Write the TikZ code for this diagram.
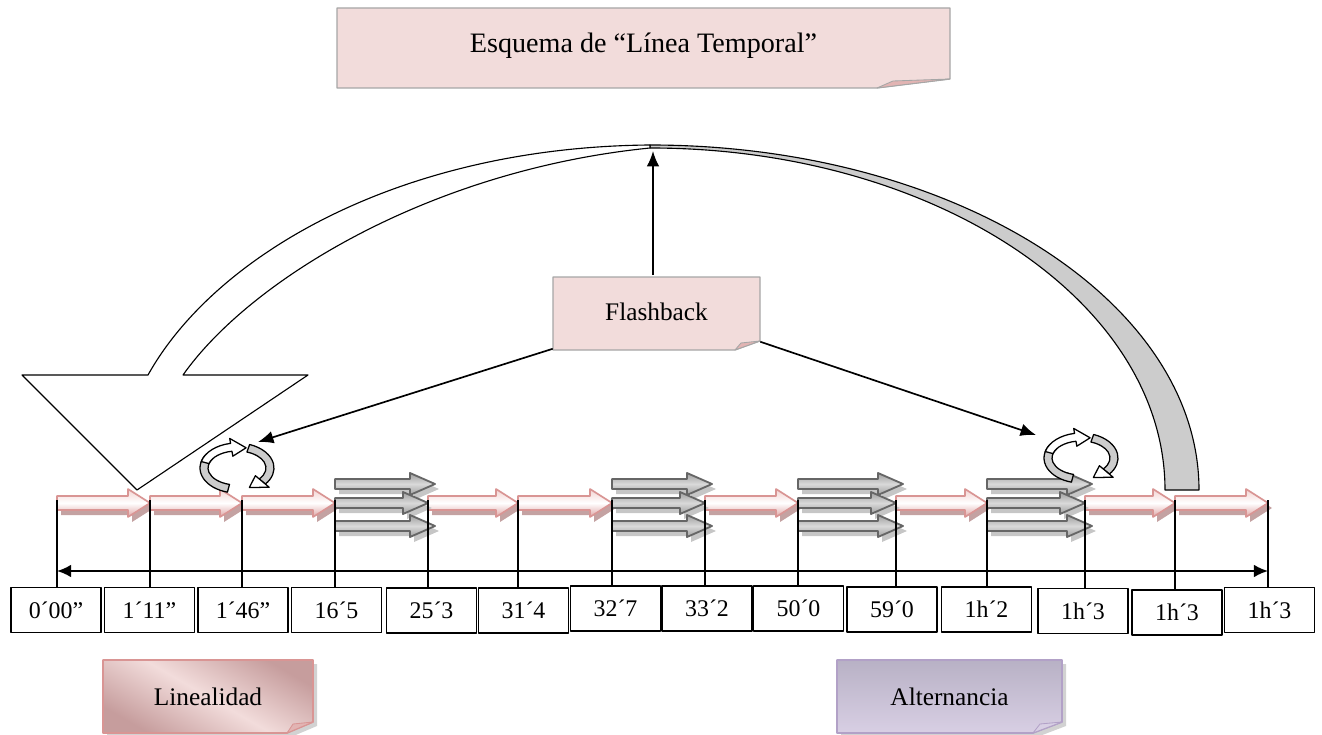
\documentclass[tikz,border=0pt]{standalone}
\usepackage{fontspec}
\setmainfont{Liberation Serif}
\usetikzlibrary{arrows.meta}

\definecolor{notepink}{HTML}{F2DCDB}
\definecolor{foldpink}{HTML}{E2B4B3}
\definecolor{notegray}{HTML}{A6A6A6}
\definecolor{arrpink}{HTML}{D99594}
\definecolor{arrpinkl}{HTML}{F3D3D2}
\definecolor{shadpink}{HTML}{C4A2A2}
\definecolor{arrgray}{HTML}{666666}
\definecolor{rosed}{HTML}{C69D9D}
\definecolor{lilac}{HTML}{B2A1C7}
\definecolor{lilacd}{HTML}{B8B1C5}
\definecolor{lilacl}{HTML}{D8CFE4}

\begin{document}
\begin{tikzpicture}[x=0.025cm,y=-0.025cm,line join=round,
  lbl/.style={draw,line width=1.2pt,minimum width=2.25cm,minimum height=1.12cm,inner sep=0pt,font=\fontsize{17}{19}\selectfont},
  tick/.style={line width=1pt},
  link/.style={-{Latex[length=11pt,width=9pt]},line width=1.2pt},
  pinkarr/.style={draw=arrpink,line width=1.2pt,top color=arrpinkl,bottom color=arrpink!85,middle color=white},
  grayarr/.style={draw=arrgray,line width=1.3pt,top color=gray!75,bottom color=gray!75,middle color=gray!30},
  ribbon/.style={draw=black,line width=0.8pt},
  fold/.style={fill=foldpink,draw=notegray,line width=0.6pt}]
\useasboundingbox (0,0) rectangle (1322,735);

% title note
\filldraw[fill=notepink,draw=notegray,line width=0.9pt] (337,8) -- (950,8) -- (950,79) -- (877,88) -- (337,88) -- cycle;
\filldraw[fold] (950,79) -- (877,88) -- (893,81) -- cycle;
\node (title) [minimum width=15.3cm,minimum height=2cm,font=\fontsize{20}{24}\selectfont] at (643.5,46) {Esquema de “Línea Temporal”};

% flashback note
\filldraw[fill=notepink,draw=notegray,line width=0.9pt] (553,277) -- (760,277) -- (760,341) -- (735,350) -- (553,350) -- cycle;
\filldraw[fold] (760,341) -- (735,350) -- (741,343) -- cycle;
\node (fb) [minimum width=5.175cm,minimum height=1.825cm,font=\fontsize{18}{22}\selectfont] at (656.5,312) {Flashback};

% timeline arrows
\foreach \a/\b in {57/150,150/242,242/335,428/518,518/612,705/798,896/987,1085/1175,1175/1268}{
  \fill[shadpink,shift={(4,5)}] (\a,496) -- ({\b-22},496) -- ({\b-22},489) -- (\b,503) -- ({\b-22},517) -- ({\b-22},510) -- (\a,510) -- cycle;
  \shade[pinkarr] (\a,496) -- ({\b-22},496) -- ({\b-22},489) -- (\b,503) -- ({\b-22},517) -- ({\b-22},510) -- (\a,510) -- cycle;
}
\foreach \a/\b in {335/428,612/705,798/896,987/1085}{
  \foreach \y/\d in {484/7,503/0,526/7}{
    \fill[gray!45,shift={(4,5)}] (\a,{\y-5}) -- ({\b+\d-25},{\y-5}) -- ({\b+\d-25},{\y-11}) -- ({\b+\d},\y) -- ({\b+\d-25},{\y+11}) -- ({\b+\d-25},{\y+5}) -- (\a,{\y+5}) -- cycle;
    \shade[grayarr] (\a,{\y-5}) -- ({\b+\d-25},{\y-5}) -- ({\b+\d-25},{\y-11}) -- ({\b+\d},\y) -- ({\b+\d-25},{\y+11}) -- ({\b+\d-25},{\y+5}) -- (\a,{\y+5}) -- cycle;
  }
}

% time marks
\foreach \x/\c/\cy/\txt [count=\i] in {57/56/610/0´00”,150/149.5/610/1´11”,242/243/610/1´46”,335/336.5/610/16´5,428/431.5/610.5/25´3,518/523.5/610.5/31´4,612/615.5/608.5/32´7,705/707/608.5/33´2,798/798.5/608.5/50´0,896/892/609.5/59´0,987/986.5/609.5/1h´2,1085/1083/611/1h´3,1175/1177/612.5/1h´3,1268/1269.5/610/1h´3}{
  \node (t\i) [lbl] at (\c,\cy) {\txt};
  \coordinate (k\i) at (\x,500);
  \draw[tick] (k\i) -- (k\i |- t\i.north);
}
\coordinate (axl) at (57,571);
\coordinate (axr) at (1268,571);
\draw[{Latex[length=10pt,width=9pt]}-{Latex[length=10pt,width=9pt]},line width=1.3pt] (axl) -- (axr);

% flashback ribbon
\filldraw[ribbon,fill=gray!40] (650,145) .. controls (953,145) and (1199,300) .. (1199,490) -- (1165,490) .. controls (1165,301) and (934,148) .. (650,148) -- cycle;
\filldraw[ribbon,fill=white] (650,145) .. controls (400,147) and (215,255) .. (148,375) -- (22,375) -- (137,490) -- (308,375) -- (183,375) .. controls (250,280) and (430,170) .. (650,148) -- cycle;

% links from flashback
\coordinate (top) at (653,151);
\coordinate (c1) at (258,442);
\coordinate (c2) at (1036,435);
\draw[link] (fb.north -| top) -- (top);
\draw[link] (fb.south west) -- (c1);
\draw[link] ([yshift=5pt]fb.south east) -- (c2);

% loops
\foreach \cx/\cy in {237/468,1081/458}{
  \begin{scope}[shift={(\cx,\cy)},yscale=-1,line width=0.9pt]
    \filldraw[fill=gray!40] (145:37 and 25) arc[start angle=145,end angle=255,x radius=37,y radius=25] -- (255:29 and 17) arc[start angle=255,end angle=145,x radius=29,y radius=17] -- cycle;
    \filldraw[fill=white] (165:37 and 25) arc[start angle=165,end angle=100,x radius=37,y radius=25] -- (100:42 and 30) -- (74:33 and 21) -- (100:24 and 12) -- (100:29 and 17) arc[start angle=100,end angle=165,x radius=29,y radius=17] -- cycle;
    \filldraw[fill=gray!40] (70:37 and 25) arc[start angle=70,end angle=-40,x radius=37,y radius=25] -- (-40:29 and 17) arc[start angle=-40,end angle=70,x radius=29,y radius=17] -- cycle;
    \filldraw[fill=white] (-40:42 and 30) -- (-68:33 and 21) -- (-40:24 and 12) -- cycle;
  \end{scope}
}

% legend notes
\fill[gray!35,shift={(4,4)}] (103,660) -- (313,660) -- (313,722) -- (287,733) -- (103,733) -- cycle;
\shade[draw=arrpink,line width=1.2pt,top color=rosed,bottom color=rosed,middle color=notepink,shading angle=-30] (103,660) -- (313,660) -- (313,722) -- (287,733) -- (103,733) -- cycle;
\filldraw[fill=foldpink,draw=arrpink,line width=0.6pt] (313,722) -- (287,733) -- (293,724) -- cycle;
\node (lin) [minimum width=5.25cm,minimum height=1.825cm,font=\fontsize{18}{22}\selectfont] at (208,696.5) {Linealidad};

\fill[gray!35,shift={(4,4)}] (837,660) -- (1062,660) -- (1062,722) -- (1033,733) -- (837,733) -- cycle;
\shade[draw=lilac,line width=1.2pt,top color=lilacd,bottom color=lilacl] (837,660) -- (1062,660) -- (1062,722) -- (1033,733) -- (837,733) -- cycle;
\filldraw[fill=lilacl,draw=lilac,line width=0.6pt] (1062,722) -- (1033,733) -- (1040,724) -- cycle;
\node (alt) [minimum width=5.625cm,minimum height=1.825cm,font=\fontsize{18}{22}\selectfont] at (949.5,696.5) {Alternancia};
\end{tikzpicture}
\end{document}
